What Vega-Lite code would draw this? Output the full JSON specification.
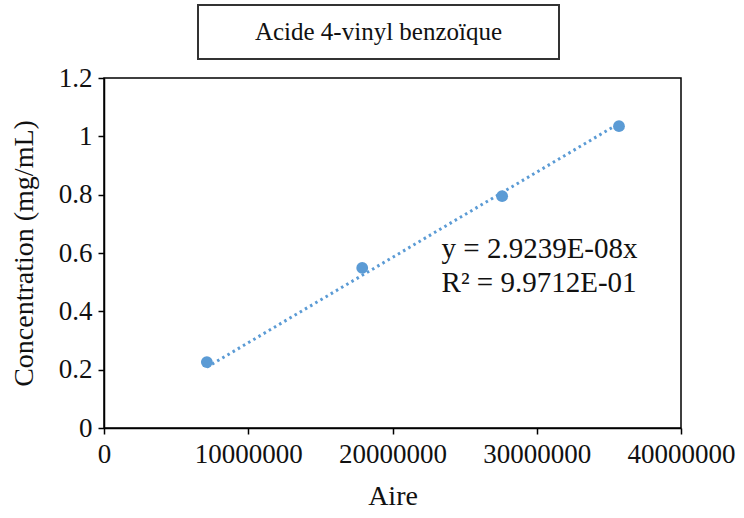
{
  "$schema": "https://vega.github.io/schema/vega-lite/v6.json",
  "background": "white",
  "padding": {"left": 9, "top": 4, "right": 5, "bottom": 5},
  "spacing": 3,
  "config": {
    "font": "Liberation Serif",
    "view": {"stroke": "#000000", "strokeWidth": 1.5},
    "axis": {
      "grid": false,
      "domainColor": "#000000",
      "domainWidth": 1.5,
      "tickColor": "#000000",
      "tickWidth": 1.5,
      "tickSize": 6,
      "labelFont": "Liberation Serif",
      "labelFontSize": 27,
      "labelColor": "#111111",
      "titleFont": "Liberation Serif",
      "titleFontSize": 28,
      "titleFontWeight": "normal",
      "titleColor": "#111111"
    }
  },
  "vconcat": [
    {
      "spacing": 0,
      "hconcat": [
        {
          "width": 93,
          "height": 54,
          "view": {"stroke": null},
          "data": {"values": [{"label": ""}]},
          "mark": {"type": "text"},
          "encoding": {"text": {"field": "label"}}
        },
        {
          "width": 361,
          "height": 54,
          "view": {"stroke": "#333333", "strokeWidth": 2},
          "data": {"values": [{"label": "Acide 4-vinyl benzoïque"}]},
          "mark": {"type": "text", "font": "Liberation Serif", "fontSize": 25, "color": "#111111", "baseline": "middle", "align": "center"},
          "encoding": {"text": {"field": "label"}}
        }
      ]
    },
    {
      "width": 577,
      "height": 350,
      "layer": [
        {
          "data": {"values": [
            {"aire": 7130000, "fit": 0.2085},
            {"aire": 35700000, "fit": 1.044}
          ]},
          "mark": {"type": "line", "color": "#5B9BD5", "strokeWidth": 3, "strokeDash": [2.5, 3.5], "strokeCap": "butt"},
          "encoding": {
            "x": {"field": "aire", "type": "quantitative"},
            "y": {"field": "fit", "type": "quantitative"}
          }
        },
        {
          "data": {"values": [
            {"aire": 7130000, "conc": 0.226},
            {"aire": 17900000, "conc": 0.549},
            {"aire": 27600000, "conc": 0.795},
            {"aire": 35700000, "conc": 1.035}
          ]},
          "mark": {"type": "point", "filled": true, "size": 140, "color": "#5B9BD5", "opacity": 1},
          "encoding": {
            "x": {"field": "aire", "type": "quantitative", "title": "Aire",
                  "scale": {"domain": [0, 40000000], "nice": false},
                  "axis": {"values": [0, 10000000, 20000000, 30000000, 40000000], "format": "d", "labelPadding": 7, "titlePadding": 15, "labelFlush": false}},
            "y": {"field": "conc", "type": "quantitative", "title": "Concentration (mg/mL)",
                  "scale": {"domain": [0, 1.2], "nice": false},
                  "axis": {"values": [0, 0.2, 0.4, 0.6, 0.8, 1, 1.2], "format": "~g", "labelPadding": 6, "titlePadding": 20}}
          }
        },
        {
          "data": {"values": [{}]},
          "mark": {"type": "text", "font": "Liberation Serif", "fontSize": 29, "color": "#111111", "align": "left", "baseline": "middle", "lineHeight": 34},
          "encoding": {
            "x": {"datum": 23400000, "type": "quantitative"},
            "y": {"datum": 0.615, "type": "quantitative"},
            "text": {"value": ["y = 2.9239E-08x", "R² = 9.9712E-01"]}
          }
        }
      ]
    }
  ]
}
